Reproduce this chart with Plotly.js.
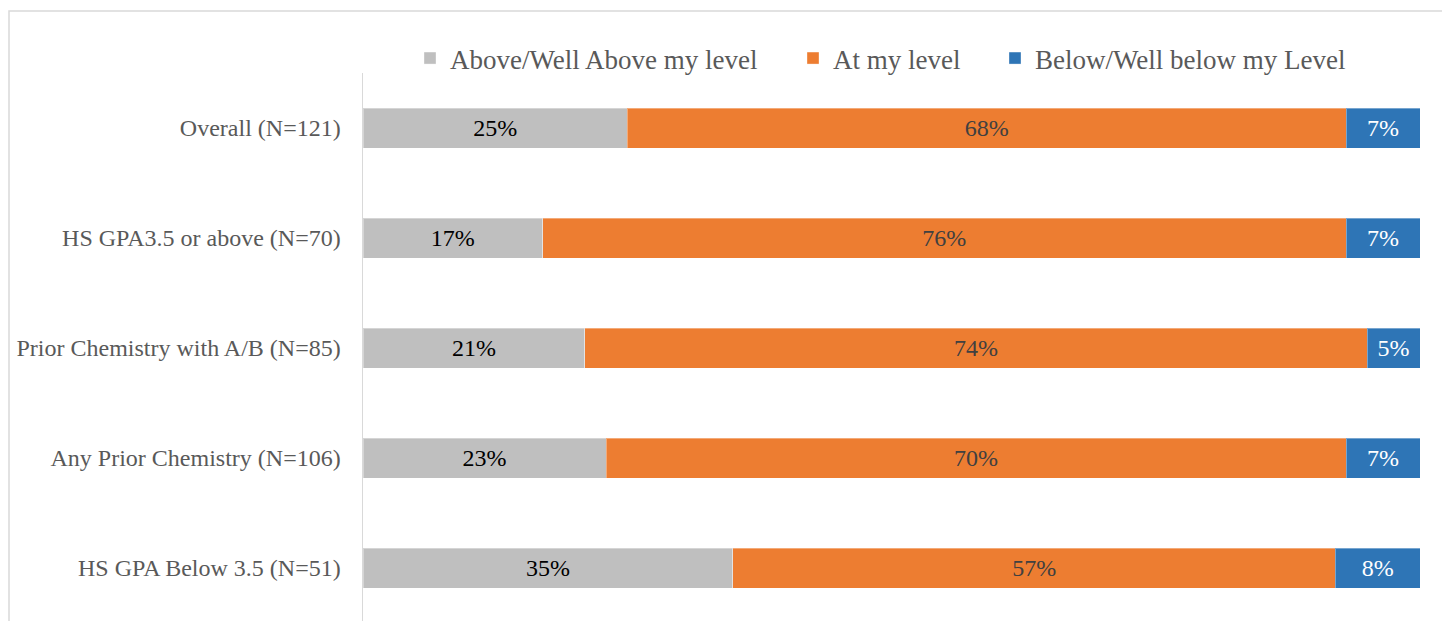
<!DOCTYPE html>
<html>
<head>
<meta charset="utf-8">
<script src="https://cdn.plot.ly/plotly-3.0.1.min.js"></script>
<style>
html,body{margin:0;padding:0;background:#fff;}
#chart{width:1442px;height:621px;}
</style>
</head>
<body>
<div id="chart"></div>
<script>
const categories = [
  "Overall (N=121)",
  "HS GPA3.5 or above (N=70)",
  "Prior Chemistry with A/B (N=85)",
  "Any Prior Chemistry (N=106)",
  "HS GPA Below 3.5 (N=51)"
];
const seriesNames = ["Above/Well Above my level", "At my level", "Below/Well below my Level"];
const aboveValues = [25, 17, 21, 23, 35];
const atValues = [68, 76, 74, 70, 57];
const belowValues = [7, 7, 5, 7, 8];

const FONT = "Liberation Serif, Times New Roman, serif";
const colors = ["#BFBFBF", "#ED7D31", "#2E75B6"];
const labelColors = ["#000000", "#404040", "#FFFFFF"];
const allValues = [aboveValues, atValues, belowValues];
const legendIds = ["legend", "legend2", "legend3"];

const traces = allValues.map((vals, i) => ({
  type: "bar",
  orientation: "h",
  name: seriesNames[i],
  legend: legendIds[i],
  y: categories,
  x: vals,
  marker: {color: colors[i], line: {color: "rgba(255,255,255,0.35)", width: 1}},
  texttemplate: "%{x}%",
  textposition: "inside",
  insidetextanchor: "middle",
  constraintext: "none",
  textfont: {family: FONT, size: 24, color: labelColors[i]},
  hoverinfo: "none"
}));

const plotLeft = 363, plotRight = 1420, plotW = plotRight - plotLeft;
const plotTop = 73, plotBottom = 621, plotH = plotBottom - plotTop;
const catSpacing = 110;
const yRange = [-0.5 + plotH / catSpacing, -0.5];

// legend symbol centres (pixels) -> paper coords
const symbolCenters = [430, 813, 1015];
function legendAt(px) {
  return {
    orientation: "h",
    x: (px - 20 - plotLeft) / plotW,
    xanchor: "left",
    y: (621 - 58.5) / plotH,
    yanchor: "middle",
    font: {family: FONT, size: 27, color: "#595959"},
    bgcolor: "rgba(0,0,0,0)",
    borderwidth: 0
  };
}

const layout = {
  width: 1442,
  height: 621,
  font: {family: FONT},
  margin: {l: plotLeft, r: 1442 - plotRight, t: plotTop, b: 0, pad: 0},
  paper_bgcolor: "#ffffff",
  plot_bgcolor: "#ffffff",
  barmode: "stack",
  bargap: 1 - 40 / 110,
  showlegend: true,
  legend: legendAt(symbolCenters[0]),
  legend2: legendAt(symbolCenters[1]),
  legend3: legendAt(symbolCenters[2]),
  xaxis: {
    range: [0, 100],
    visible: false,
    showgrid: false,
    zeroline: false,
    fixedrange: true
  },
  yaxis: {
    type: "category",
    categoryorder: "array",
    categoryarray: categories,
    range: yRange,
    showline: true,
    linecolor: "#D9D9D9",
    linewidth: 1.5,
    ticks: "",
    ticklabelstandoff: 16,
    showgrid: false,
    zeroline: false,
    tickfont: {family: FONT, size: 24, color: "#595959"},
    fixedrange: true
  },
  shapes: [{
    type: "rect",
    xref: "paper", yref: "paper",
    x0: (9 - plotLeft) / plotW, x1: (1460 - plotLeft) / plotW,
    y0: -0.1, y1: (621 - 11) / plotH,
    line: {color: "#D9D9D9", width: 1.5},
    fillcolor: "rgba(0,0,0,0)",
    layer: "below"
  }]
};

Plotly.newPlot("chart", traces, layout, {displayModeBar: false, staticPlot: true});
</script>
</body>
</html>
